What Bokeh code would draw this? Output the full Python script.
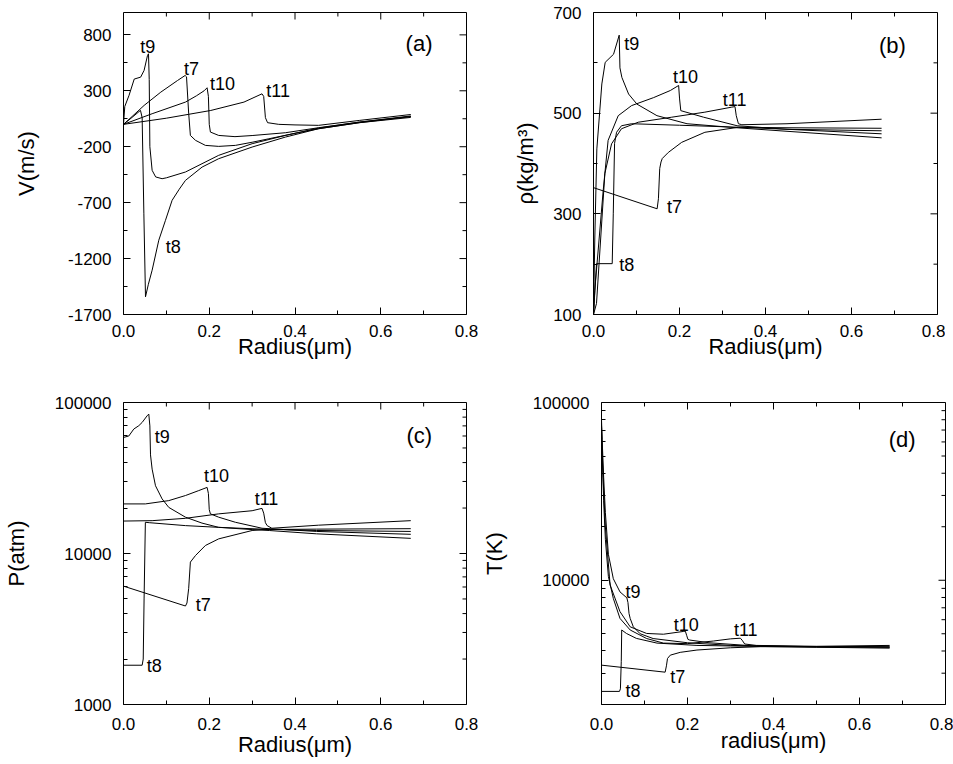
import math
from bokeh.plotting import figure
from bokeh.layouts import column, row
from bokeh.models import FixedTicker, PrintfTickFormatter, Range1d
from bokeh.core.properties import value
from bokeh.embed import file_html
from bokeh.resources import INLINE

FONT = "Liberation Sans"
names = ["t7", "t8", "t9", "t10", "t11"]

# ---------------- (a) velocity V (m/s) ----------------
a_t7_r = [0, 0.02, 0.048, 0.087, 0.126, 0.1437, 0.147, 0.152, 0.156, 0.168, 0.191, 0.222, 0.261, 0.30, 0.339, 0.40, 0.455, 0.55, 0.67]
a_t7_v = [0, 70, 169, 288, 392, 437, 425, 100, -99, -143, -188, -197, -188, -160, -129, -80, -39, 15, 70]
a_t8_r = [0, 0.02, 0.0396, 0.0435, 0.0475, 0.0513, 0.058, 0.0668, 0.0823, 0.0979, 0.1134, 0.13, 0.1445, 0.1833, 0.222, 0.30, 0.3775, 0.455, 0.55, 0.67]
a_t8_v = [0, 62, 125, 60, -800, -1542, -1430, -1304, -1036, -858, -679, -580, -501, -382, -307, -203, -114, -39, 15, 62]
a_t9_r = [0, 0.003, 0.013, 0.025, 0.04, 0.048, 0.056, 0.0583, 0.060, 0.0615, 0.0668, 0.075, 0.090, 0.10, 0.1445, 0.222, 0.30, 0.3775, 0.455, 0.55, 0.67]
a_t9_v = [0, 160, 260, 405, 422, 482, 616, 631, 400, -200, -411, -470, -486, -478, -426, -277, -173, -99, -33, 20, 75]
a_t10_r = [0, 0.0668, 0.1445, 0.17, 0.188, 0.195, 0.198, 0.200, 0.2027, 0.222, 0.26, 0.30, 0.3775, 0.455, 0.55, 0.67]
a_t10_v = [0, 95, 199, 255, 300, 327, 250, 0, -69, -99, -110, -100, -75, -30, 20, 70]
a_t11_r = [0, 0.1, 0.2035, 0.281, 0.323, 0.327, 0.331, 0.336, 0.362, 0.40, 0.455, 0.55, 0.67]
a_t11_v = [0, 55, 124, 199, 273, 250, 60, 15, 0, -5, -9, 35, 88]
a_lab_x = [0.141, 0.0986, 0.039, 0.202, 0.333]
a_lab_y = [496, -1096, 690, 362, 297]

# ---------------- (b) density rho (kg/m3) ----------------
b_t7_r = [0, 0.148, 0.151, 0.154, 0.157, 0.16, 0.174, 0.205, 0.259, 0.337, 0.45, 0.67]
b_t7_y = [352, 310, 330, 390, 403, 410, 422, 442, 462, 472, 471, 470]
b_t8_r = [0, 0.007, 0.0435, 0.046, 0.049, 0.0536, 0.065, 0.0885, 0.2, 0.337, 0.45, 0.67]
b_t8_y = [100, 201, 201, 300, 440, 462, 475, 479, 476, 472, 468, 465]
b_t9_r = [0, 0.003, 0.0078, 0.0194, 0.0272, 0.0466, 0.0598, 0.0615, 0.066, 0.0816, 0.101, 0.1476, 0.2175, 0.318, 0.35, 0.45, 0.67]
b_t9_y = [100, 250, 429, 558, 601, 617, 655, 590, 571, 538, 518, 495, 479, 472, 470, 464, 451]
b_t10_r = [0, 0.003, 0.0225, 0.034, 0.0575, 0.0885, 0.14, 0.1786, 0.198, 0.2, 0.203, 0.256, 0.334, 0.45, 0.67]
b_t10_y = [100, 148, 346, 446, 495, 515, 531, 545, 555, 530, 505, 492, 475, 468, 459]
b_t11_r = [0, 0.007, 0.0264, 0.042, 0.065, 0.104, 0.182, 0.259, 0.3215, 0.329, 0.332, 0.337, 0.345, 0.45, 0.67]
b_t11_y = [100, 122, 380, 439, 469, 482, 492, 502, 512, 513, 495, 479, 477, 479, 488]
b_lab_x = [0.171, 0.06, 0.0715, 0.185, 0.3006]
b_lab_y = [313, 198, 637, 571, 526]

# ---------------- (c) pressure P (atm) ----------------
c_t7_r = [0, 0.1445, 0.148, 0.152, 0.156, 0.168, 0.191, 0.222, 0.30, 0.323, 0.45, 0.67]
c_t7_y = [6080, 4490, 4700, 5850, 8770, 9700, 11300, 12500, 14200, 14400, 14500, 14600]
c_t8_r = [0, 0.0435, 0.046, 0.048, 0.051, 0.06, 0.1445, 0.222, 0.323, 0.45, 0.67]
c_t8_y = [1820, 1820, 2000, 5000, 16100, 16000, 15300, 14900, 14500, 14200, 14000]
c_t9_r = [0, 0.0124, 0.024, 0.0357, 0.0435, 0.055, 0.059, 0.0615, 0.063, 0.0668, 0.0746, 0.09, 0.1056, 0.1445, 0.183, 0.222, 0.30, 0.34, 0.45, 0.67]
c_t9_y = [58700, 60000, 66700, 70200, 73800, 81600, 83800, 70000, 45000, 36200, 28100, 23000, 20200, 17400, 15900, 14900, 14400, 14200, 13500, 12600]
c_t10_r = [0, 0.051, 0.1056, 0.1445, 0.1755, 0.195, 0.198, 0.2, 0.2027, 0.222, 0.261, 0.323, 0.45, 0.67]
c_t10_y = [21300, 21300, 22400, 24200, 26100, 27400, 25000, 19500, 18300, 17400, 16100, 14700, 14000, 13400]
c_t11_r = [0, 0.0668, 0.1445, 0.222, 0.30, 0.323, 0.327, 0.331, 0.335, 0.346, 0.455, 0.67]
c_t11_y = [16400, 16500, 17100, 18300, 19200, 19900, 18500, 16000, 15300, 14700, 15400, 16500]
c_lab_x = [0.1686, 0.054, 0.073, 0.188, 0.306]
c_lab_y = [4530, 1800, 58800, 32700, 23000]

# ---------------- (d) temperature T (K) ----------------
d_t7_r = [0, 0.148, 0.151, 0.1535, 0.16, 0.183, 0.222, 0.30, 0.37, 0.5, 0.67]
d_t7_y = [3330, 3040, 3300, 3630, 3790, 3930, 4050, 4170, 4230, 4220, 4200]
d_t8_r = [0, 0.0418, 0.044, 0.046, 0.047, 0.058, 0.081, 0.129, 0.222, 0.35, 0.5, 0.67]
d_t8_y = [2370, 2370, 2450, 3500, 5250, 5020, 4710, 4430, 4300, 4250, 4200, 4150]
d_t9_r = [0, 0.0015, 0.005, 0.009, 0.016, 0.0275, 0.043, 0.059, 0.0615, 0.064, 0.0667, 0.074, 0.09, 0.12, 0.2, 0.3, 0.4, 0.5, 0.67]
d_t9_y = [80000, 62000, 38000, 24000, 14000, 10200, 8600, 7960, 7500, 6500, 6100, 5470, 5000, 4700, 4450, 4300, 4250, 4220, 4250]
d_t10_r = [0, 0.0015, 0.005, 0.009, 0.02, 0.043, 0.0667, 0.105, 0.144, 0.19, 0.195, 0.198, 0.201, 0.205, 0.25, 0.35, 0.5, 0.67]
d_t10_y = [74000, 55000, 32000, 20000, 9400, 6660, 5470, 5020, 4970, 5150, 5170, 4900, 4650, 4610, 4450, 4280, 4230, 4200]
d_t11_r = [0, 0.0015, 0.005, 0.009, 0.016, 0.0275, 0.043, 0.0667, 0.105, 0.144, 0.2, 0.26, 0.30, 0.323, 0.327, 0.333, 0.36, 0.5, 0.67]
d_t11_y = [74000, 52000, 28000, 17000, 10500, 7900, 6100, 5250, 4700, 4430, 4400, 4550, 4680, 4720, 4600, 4380, 4300, 4250, 4300]
d_lab_x = [0.16, 0.0558, 0.0558, 0.168, 0.308]
d_lab_y = [2870, 2370, 8600, 5630, 5250]

# ticks
x_major = [0.0, 0.2, 0.4, 0.6, 0.8]
x_minor = [0.1, 0.3, 0.5, 0.7]
a_major = [-1700, -1200, -700, -200, 300, 800]
a_minor = [-1450, -950, -450, 50, 550]
b_major = [100, 300, 500, 700]
b_minor = [200, 400, 600]
c_major = [1000, 10000, 100000]
d_major = [10000, 100000]
log_minor = [2000, 3000, 4000, 5000, 6000, 7000, 8000, 9000,
             20000, 30000, 40000, 50000, 60000, 70000, 80000, 90000]


def style_axis(ax):
    ax.axis_line_color = None
    ax.major_tick_in = 7
    ax.major_tick_out = 0
    ax.minor_tick_in = 4
    ax.minor_tick_out = 0
    ax.major_tick_line_color = "black"
    ax.minor_tick_line_color = "black"
    ax.major_label_text_font = FONT
    ax.major_label_text_font_size = "17px"
    ax.major_label_text_color = "black"
    ax.axis_label_text_font = FONT
    ax.axis_label_text_font_size = "22px"
    ax.axis_label_text_font_style = "normal"
    ax.axis_label_text_color = "black"


def panel(curves, ylog, ylim, ymaj, ymin, ylabel, xlabel, lab_x, lab_y, tag, tag_x, tag_y,
          fw, fh, bl, br, bt, bb, ystand, xlab_stand, xstand):
    p = figure(frame_width=fw, frame_height=fh,
               x_range=Range1d(0, 0.8), y_range=Range1d(*ylim),
               y_axis_type="log" if ylog else "linear",
               output_backend="svg", toolbar_location=None,
               min_border_left=bl, min_border_right=br,
               min_border_top=bt, min_border_bottom=bb)
    p.grid.visible = False
    p.outline_line_color = "black"
    p.outline_line_width = 1
    p.background_fill_color = "white"
    p.border_fill_color = "white"

    for r, y in curves:
        p.line(r, y, line_color="black", line_width=1)

    p.text(x=lab_x, y=lab_y, text=names, text_font=value(FONT), text_font_size="18px",
           text_align="left", text_baseline="middle", text_color="black")
    p.text(x=[tag_x], y=[tag_y], text=[tag], text_font=value(FONT), text_font_size="22px",
           text_align="left", text_baseline="middle", text_color="black")

    xa = p.xaxis[0]
    xa.ticker = FixedTicker(ticks=x_major, minor_ticks=x_minor)
    xa.formatter = PrintfTickFormatter(format="%.1f")
    xa.axis_label = xlabel
    style_axis(xa)
    xa.major_label_standoff = xlab_stand
    xa.axis_label_standoff = xstand

    ya = p.yaxis[0]
    ya.ticker = FixedTicker(ticks=ymaj, minor_ticks=ymin)
    ya.formatter = PrintfTickFormatter(format="%d")
    ya.axis_label = ylabel
    style_axis(ya)
    ya.major_label_standoff = 12
    ya.axis_label_standoff = ystand

    # mirrored inward ticks on the top and right frame edges
    x_hi = 0.8
    y_hi = ylim[1]
    p.ray(x=[x_hi] * len(ymaj), y=ymaj, length=7, length_units="screen", angle=math.pi,
          line_color="black", line_width=1)
    p.ray(x=[x_hi] * len(ymin), y=ymin, length=4, length_units="screen", angle=math.pi,
          line_color="black", line_width=1)
    p.ray(x=x_major, y=[y_hi] * len(x_major), length=7, length_units="screen", angle=-math.pi / 2,
          line_color="black", line_width=1)
    p.ray(x=x_minor, y=[y_hi] * len(x_minor), length=4, length_units="screen", angle=-math.pi / 2,
          line_color="black", line_width=1)
    return p


pa = panel([(a_t7_r, a_t7_v), (a_t8_r, a_t8_v), (a_t9_r, a_t9_v), (a_t10_r, a_t10_v), (a_t11_r, a_t11_v)],
           False, (-1700, 1000), a_major, a_minor, "V(m/s)", "Radius(\u03bcm)",
           a_lab_x, a_lab_y, "(a)", 0.658, 720,
           343, 302, 123, 12, 12, 76, 26, 10, -6)
pb = panel([(b_t7_r, b_t7_y), (b_t8_r, b_t8_y), (b_t9_r, b_t9_y), (b_t10_r, b_t10_y), (b_t11_r, b_t11_y)],
           False, (100, 700), b_major, b_minor, "\u03c1(kg/m\u00b3)", "Radius(\u03bcm)",
           b_lab_x, b_lab_y, "(b)", 0.664, 634,
           344, 302, 115, 8, 12, 76, 12, 10, -6)
pc = panel([(c_t7_r, c_t7_y), (c_t8_r, c_t8_y), (c_t9_r, c_t9_y), (c_t10_r, c_t10_y), (c_t11_r, c_t11_y)],
           True, (1000, 100000), c_major, log_minor, "P(atm)", "Radius(\u03bcm)",
           c_lab_x, c_lab_y, "(c)", 0.66, 60300,
           343, 302, 123, 12, 12, 52, 23, 13, -1)
pd = panel([(d_t7_r, d_t7_y), (d_t8_r, d_t8_y), (d_t9_r, d_t9_y), (d_t10_r, d_t10_y), (d_t11_r, d_t11_y)],
           True, (2000, 100000), d_major, log_minor, "T(K)", "radius(\u03bcm)",
           d_lab_x, d_lab_y, "(d)", 0.668, 62300,
           344, 302, 115, 8, 12, 52, 23, 13, -5)

layout = column(row(pa, pb), row(pc, pd))
open("out.html", "w").write(file_html(layout, INLINE))
